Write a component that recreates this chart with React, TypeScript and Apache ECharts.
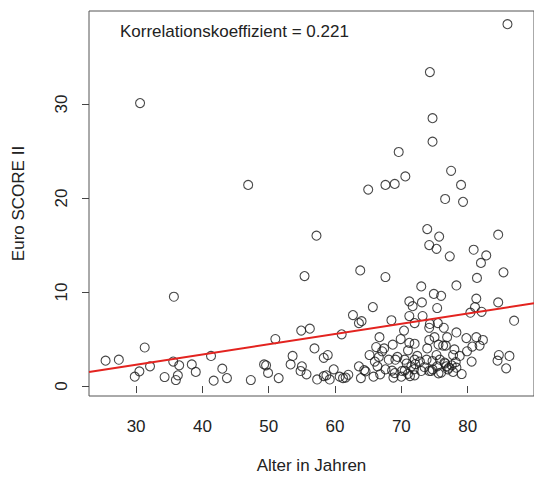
import React, { useEffect, useRef } from "react";
import * as echarts from "echarts";

// Alter in Jahren (x) und Euro SCORE II (y)
const ages: number[] = [
  86.0, 74.3, 30.6, 74.7, 74.7, 69.6, 77.5, 70.6, 79.0, 67.6, 69.0, 65.0, 46.9, 76.6, 79.3,
  73.9, 75.7, 84.6, 57.2, 74.2, 75.3, 80.9, 77.3, 82.8, 82.0, 63.8, 55.4, 67.6, 81.4, 85.4,
  35.7, 73.0, 78.3, 74.9, 76.0, 71.2, 73.1, 81.3, 84.6, 65.7, 71.7, 75.4, 81.1, 80.4, 82.1,
  62.7, 71.2, 73.2, 64.0, 63.6, 68.5, 87.0, 74.3, 75.5, 72.0, 74.2, 76.4, 70.4, 54.9, 56.2,
  61.0, 76.9, 78.3, 79.8, 81.3, 82.3, 51.0, 66.7, 69.9, 75.0, 74.2, 71.2, 72.0, 68.7, 75.6,
  76.3, 76.7, 80.7, 81.8, 66.2, 67.4, 31.3, 56.9, 73.9, 71.0, 78.0, 79.9, 65.2, 66.6, 69.4,
  72.4, 75.3, 77.8, 78.8, 84.7, 86.3, 41.3, 53.6, 58.3, 58.9, 25.4, 27.4, 35.6, 68.1, 72.0,
  73.8, 75.8, 80.6, 84.5, 69.1, 70.5, 32.1, 36.5, 38.4, 30.5, 29.8, 34.3, 36.0, 36.3, 39.0,
  43.0, 41.7, 43.7, 47.3, 49.3, 49.6, 49.9, 51.5, 53.3, 55.0, 54.8, 55.7, 57.3, 58.3, 58.7,
  59.2, 59.8, 60.7, 61.2, 63.6, 64.4, 64.6, 63.9, 65.8, 66.8, 66.4, 67.6, 68.6, 69.0, 70.0,
  70.5, 71.0, 71.5, 71.9, 72.1, 72.0, 73.0, 74.2, 74.7, 75.6, 75.4, 76.8, 77.2, 77.6, 78.3,
  79.1, 76.6, 85.8, 70.1, 67.1, 61.6, 68.8, 71.3, 73.5, 74.7, 76.5, 78.2, 74.5, 76.0, 77.0,
  77.8, 72.8, 70.8, 66.0, 62.0,
];

const scores: number[] = [
  38.5, 33.4, 30.1, 28.5, 26.0, 24.9, 22.9, 22.3, 21.4, 21.4, 21.5, 20.9, 21.4, 19.9, 19.6,
  16.7, 15.9, 16.1, 16.0, 15.0, 14.6, 14.5, 13.8, 13.9, 13.1, 12.3, 11.7, 11.6, 11.5, 12.1,
  9.5, 10.6, 10.7, 9.8, 9.6, 9.0, 8.9, 9.3, 8.9, 8.4, 8.5, 8.3, 8.4, 7.8, 7.9,
  7.55, 7.45, 7.45, 6.9, 6.7, 7.0, 6.95, 6.6, 6.7, 6.7, 6.2, 6.2, 5.9, 5.9, 6.1,
  5.5, 5.2, 5.7, 5.1, 5.2, 4.9, 5.0, 5.2, 5.0, 5.2, 4.9, 4.6, 4.5, 4.4, 4.4,
  4.3, 4.3, 4.2, 4.3, 4.15, 4.0, 4.1, 4.0, 4.0, 3.8, 3.9, 3.7, 3.3, 3.1, 3.1,
  3.2, 3.3, 3.3, 3.2, 3.3, 3.2, 3.2, 3.2, 3.0, 3.3, 2.7, 2.8, 2.6, 2.8, 2.8,
  2.8, 2.8, 2.6, 2.7, 2.8, 2.8, 2.1, 2.2, 2.3, 1.56, 1.0, 0.96, 0.64, 1.14, 1.5,
  1.85, 0.57, 0.85, 0.64, 2.3, 2.2, 1.4, 0.85, 2.3, 2.1, 1.6, 1.25, 0.7, 1.06, 1.14,
  0.7, 1.78, 1.0, 0.85, 2.1, 1.7, 1.56, 0.85, 1.0, 1.25, 2.1, 1.78, 1.64, 1.38, 1.0,
  1.64, 1.3, 2.1, 1.78, 2.34, 1.14, 1.6, 1.6, 1.78, 1.35, 2.1, 2.1, 1.95, 2.2, 1.95,
  1.28, 2.4, 1.88, 1.6, 3.7, 0.9, 0.9, 1.06, 2.0, 2.66, 2.5, 2.55, 1.6, 1.43, 1.78,
  1.5, 2.6, 2.4, 2.6, 1.2,
];

const xTicks = [30, 40, 50, 60, 70, 80];
const yTicks = [0, 10, 20, 30];
const xRange = [22.9, 90.0];
const yRange = [-1.06, 39.9];
const regIntercept = -1.0;
const regSlope = 0.109;
const correlationText = "Korrelationskoeffizient = 0.221";
const xTitle = "Alter in Jahren";
const yTitle = "Euro SCORE II";

const FONT = "'Liberation Sans', Arial, sans-serif";
const FS = 17;

export default function App() {
  const ref = useRef<HTMLDivElement>(null);
  useEffect(() => {
    if (!ref.current) return;
    const chart = echarts.init(ref.current, undefined, { renderer: "svg" });
    const points = ages.map((a, i) => [a, scores[i]]);
    const regLine = xRange.map((x) => [x, regIntercept + regSlope * x]);
    chart.setOption({
      animation: false,
      backgroundColor: "#ffffff",
      textStyle: { fontFamily: FONT },
      grid: {
        left: 89,
        top: 11,
        right: -7,
        bottom: 83,
        show: true,
        borderColor: "#555",
        borderWidth: 1,
        backgroundColor: "transparent",
      },
      xAxis: {
        type: "value",
        min: xRange[0],
        max: xRange[1],
        axisLine: { show: false },
        splitLine: { show: false },
        axisTick: {
          show: true,
          inside: false,
          length: 7,
          customValues: xTicks,
          lineStyle: { color: "#444" },
        },
        axisLabel: {
          customValues: xTicks,
          margin: 22,
          fontSize: FS,
          color: "#222",
          fontFamily: FONT,
        },
        name: xTitle,
        nameLocation: "middle",
        nameGap: 61,
        nameTextStyle: { fontSize: FS, color: "#222", fontFamily: FONT },
      },
      yAxis: {
        type: "value",
        min: yRange[0],
        max: yRange[1],
        axisLine: { show: false },
        splitLine: { show: false },
        axisTick: {
          show: true,
          inside: false,
          length: 7,
          customValues: yTicks,
          lineStyle: { color: "#444" },
        },
        axisLabel: {
          customValues: yTicks,
          rotate: 90,
          margin: 19,
          fontSize: FS,
          color: "#222",
          fontFamily: FONT,
        },
        name: yTitle,
        nameLocation: "middle",
        nameGap: 62,
        nameRotate: 90,
        nameTextStyle: { fontSize: FS, color: "#222", fontFamily: FONT },
      },
      series: [
        {
          type: "scatter",
          data: points,
          symbol: "circle",
          symbolSize: 9,
          itemStyle: { color: "rgba(0,0,0,0)", borderColor: "#1a1a1a", borderWidth: 1.1 },
          emphasis: { disabled: true },
        },
        {
          type: "line",
          data: regLine,
          showSymbol: false,
          clip: true,
          lineStyle: { color: "#e3231f", width: 2 },
          emphasis: { disabled: true },
        },
      ],
      graphic: [
        {
          type: "text",
          left: 120,
          top: 23,
          style: {
            text: correlationText,
            fontSize: FS,
            fontFamily: FONT,
            fill: "#222",
          },
        },
      ],
    });
    return () => chart.dispose();
  }, []);
  return (
    <div
      ref={ref}
      style={{ position: "fixed", left: 0, top: 0, width: 534, height: 479, background: "#fff" }}
    />
  );
}
